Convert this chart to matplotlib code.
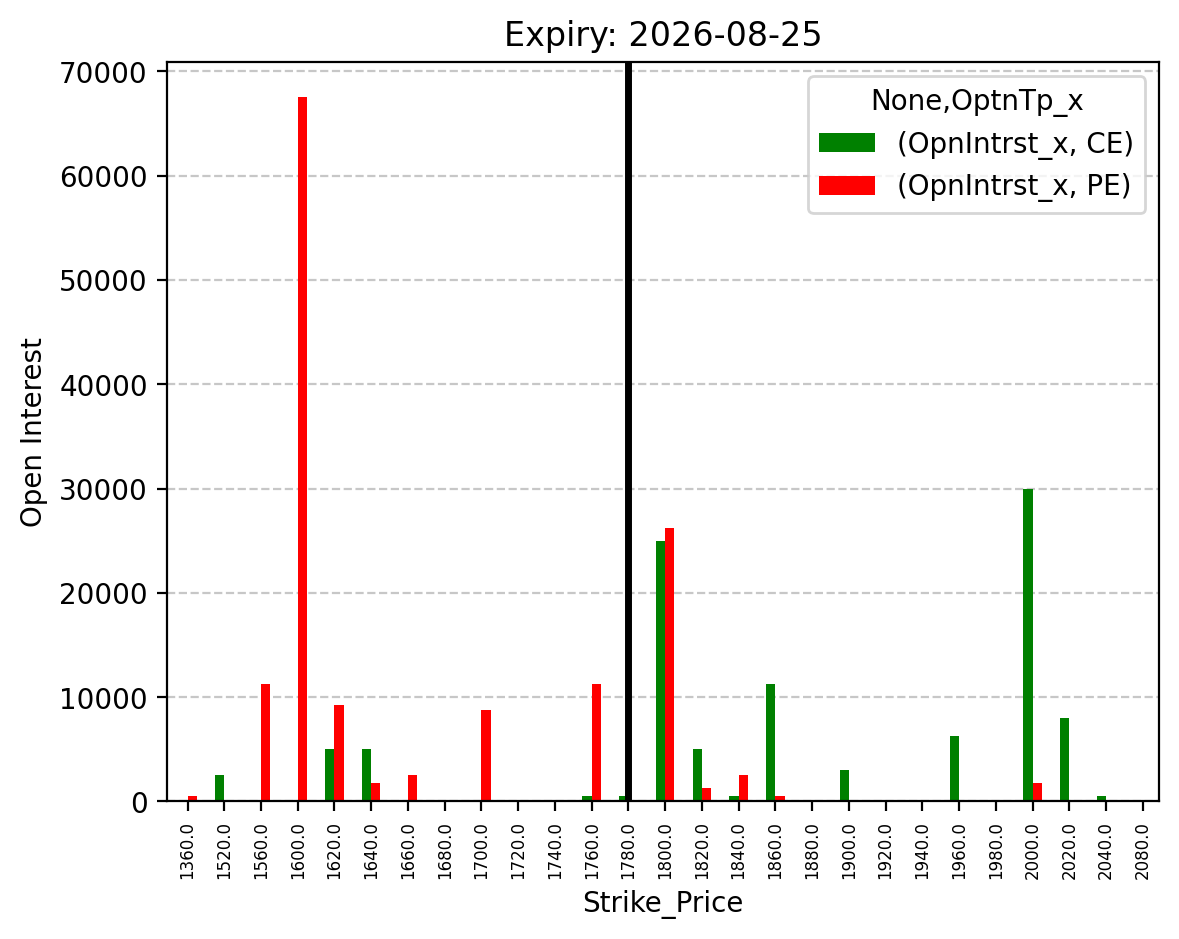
import numpy as np
import matplotlib
matplotlib.use("Agg")
import matplotlib.pyplot as plt

strikes = [1360, 1520, 1560, 1600, 1620, 1640, 1660, 1680, 1700, 1720, 1740, 1760, 1780,
           1800, 1820, 1840, 1860, 1880, 1900, 1920, 1940, 1960, 1980, 2000, 2020, 2040, 2080]
ce_oi = [0, 2500, 0, 0, 5000, 5000, 0, 0, 0, 0, 0, 500, 500,
         25000, 5000, 500, 11250, 0, 3000, 0, 0, 6250, 0, 30000, 8000, 500, 0]
pe_oi = [500, 0, 11250, 67500, 9250, 1750, 2500, 0, 8750, 0, 0, 11250, 0,
         26250, 1250, 2500, 500, 0, 0, 0, 0, 0, 0, 1750, 0, 0, 0]
spot_strike = 1780
expiry = "2026-08-25"

fig, ax = plt.subplots(figsize=(6.4, 4.8), dpi=200)
x = np.arange(len(strikes))
w = 0.25
ax.bar(x - w / 2, ce_oi, width=w, color="green", label="(OpnIntrst_x, CE)")
ax.bar(x + w / 2, pe_oi, width=w, color="red", label="(OpnIntrst_x, PE)")
ax.set_xticks(x)
ax.set_xticklabels([f"{s:.1f}" for s in strikes], rotation=90, fontsize=6)
ax.set_xlim(-0.55, len(strikes) - 0.55)
ax.set_ylim(0, max(max(ce_oi), max(pe_oi)) * 1.05)
ax.axvline(strikes.index(spot_strike), color="black", linewidth=2.5)
ax.grid(axis="y", linestyle="--", alpha=0.7)
ax.set_axisbelow(True)
ax.legend(title="None,OptnTp_x", loc="upper right")
ax.set_title(f"Expiry: {expiry}")
ax.set_xlabel("Strike_Price")
ax.set_ylabel("Open Interest")
fig.savefig("out.png", bbox_inches="tight")
